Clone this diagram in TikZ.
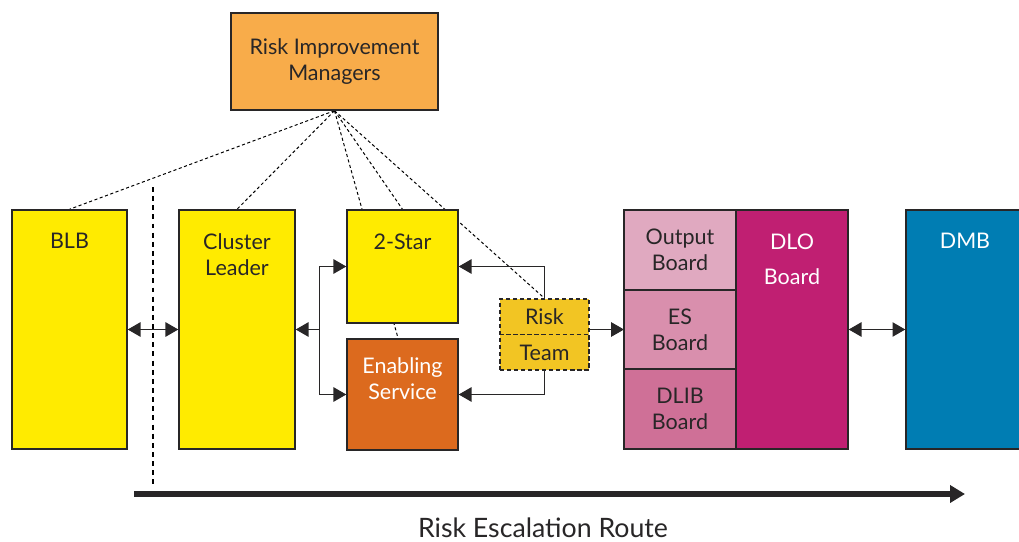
\documentclass[tikz,border=0pt]{standalone}
\usepackage{fontspec}
\setmainfont{Lato}
\usetikzlibrary{arrows.meta,calc,positioning,backgrounds}
\definecolor{rimorange}{RGB}{248,172,74}
\definecolor{unityellow}{RGB}{255,235,0}
\definecolor{enableorange}{RGB}{220,106,30}
\definecolor{teamgold}{RGB}{242,197,35}
\definecolor{outpink}{RGB}{224,169,192}
\definecolor{espink}{RGB}{217,143,173}
\definecolor{dlibpink}{RGB}{207,112,151}
\definecolor{dlomagenta}{RGB}{192,31,114}
\definecolor{dmbblue}{RGB}{0,125,179}
\definecolor{inkgray}{RGB}{40,38,39}

\begin{document}
\begin{tikzpicture}[
  font=\fontsize{15.3}{18.5}\selectfont,
  box/.style={draw=inkgray, line width=1pt, inner sep=0pt, text=inkgray},
  boxtext/.style={align=center, inner sep=0pt, text=inkgray},
  link/.style={-{Triangle[length=3.2mm,width=3.6mm]}, line width=0.8pt, inkgray},
  twoway/.style={{Triangle[length=3.2mm,width=3.6mm]}-{Triangle[length=3.2mm,width=3.6mm]},
    line width=0.8pt, inkgray},
  oversight/.style={black, line width=0.7pt, dash pattern=on 2.2pt off 1.8pt},
  separator/.style={black, line width=1.1pt, dash pattern=on 3.5pt off 3pt},
  escalation/.style={-{Triangle[length=3.75mm,width=4.25mm]}, line width=4.3pt, inkgray},
]
\useasboundingbox (0,0) rectangle (25.475,13.525);
\clip (0,0) rectangle (25.475,13.525);

% Top tier
\node[box, fill=rimorange, minimum width=5.175cm, minimum height=2.425cm, align=center]
  (rim) at (8.3625,11.9875) {Risk Improvement\\Managers};

% Local tier
\node[box, fill=unityellow, minimum width=2.875cm, minimum height=5.975cm] (blb) at (1.7375,5.2875) {};
\node[boxtext, below=0.6cm of blb.north] (blbtext) {BLB};

\node[box, fill=unityellow, minimum width=2.9cm, minimum height=5.975cm] (cl) at (5.925,5.2875) {};
\node[boxtext, below=0.6cm of cl.north] (cltext) {Cluster\\Leader};

\node[box, fill=unityellow, minimum width=2.775cm, minimum height=2.825cm] (star) at (10.0625,6.8625) {};
\node[boxtext, below=0.6cm of star.north] (startext) {2-Star};

\node[box, fill=enableorange, minimum width=2.775cm, minimum height=2.775cm] (enab) at (10.0625,3.6625) {};
\node[boxtext, text=white, below=0.475cm of enab.north] (enabtext) {Enabling\\Service};

\node[box, fill=teamgold, dash pattern=on 3pt off 2pt, minimum width=2.225cm, minimum height=1.775cm,
  align=center, font=\fontsize{15.3}{25.6}\selectfont] (rt) at (13.6125,5.1625) {Risk\\Team};
\draw[inkgray, line width=1pt, dash pattern=on 3pt off 2pt] (rt.west) -- (rt.east);

% Board tier
\node[box, outer sep=0pt, fill=outpink, minimum width=2.8cm, minimum height=2cm, align=center] (out) at (17.0,7.275) {Output\\Board};
\node[box, outer sep=0pt, fill=espink, minimum width=2.8cm, minimum height=1.975cm, align=center, below=0pt of out] (es) {ES\\Board};
\node[box, outer sep=0pt, fill=dlibpink, minimum width=2.8cm, minimum height=2cm, align=center, below=0pt of es] (dlib) {DLIB\\Board};

\node[box, fill=dlomagenta, minimum width=2.8cm, minimum height=5.975cm] (dlo) at (19.8,5.2875) {};
\node[boxtext, text=white, below=0.6cm of dlo.north, font=\fontsize{15.3}{24.9}\selectfont] (dlotext) {DLO\\Board};

\node[box, fill=dmbblue, minimum width=2.95cm, minimum height=5.975cm] (dmb) at (24.125,5.2875) {};
\node[boxtext, text=white, below=0.6cm of dmb.north] (dmbtext) {DMB};

% Oversight lines run behind the boxes
\begin{scope}[on background layer]
  \foreach \target in {blb.north, cl.north, star.north, rt.north}
    \draw[oversight] (rim.south) -- (\target);
  \draw[oversight] (rim.south) -- ($(enab.north)+(-0.11,0)$);
\end{scope}

% Reporting arrows
\coordinate (jn) at ($(cl.east)+(0.6,0)$);
\draw[twoway] (blb.east) -- (cl.west);
\draw[link] (jn) -- (cl.east);
\draw[link] (jn) |- (star.west);
\draw[link] (jn) |- (enab.west);
\draw[link] (rt.north) |- (star.east);
\draw[link] (rt.south) |- (enab.east);
\draw[link] (rt.east |- es.west) -- (es.west);
\draw[twoway] (dlo.east) -- (dmb.west);

% Escalation route
\coordinate (sepTop) at (3.825,8.85);
\coordinate (sepBot) at (3.825,1.35);
\draw[separator] (sepTop) -- (sepBot);

\coordinate (escStart) at (3.35,1.175);
\coordinate (escEnd) at (24.125,1.175);
\draw[escalation] (escStart) -- (escEnd);
\node[font=\fontsize{19}{22}\selectfont, text=inkgray, inner sep=0pt, anchor=base]
  (esclabel) at (13.575,0.1) {Risk Escalation Route};

\end{tikzpicture}
\end{document}
